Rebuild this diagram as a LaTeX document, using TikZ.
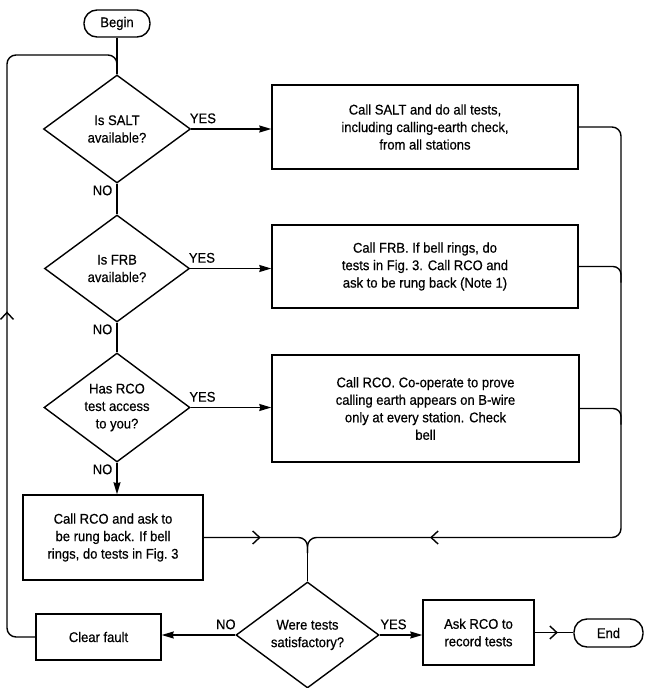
\documentclass[tikz,border=0pt]{standalone}
\usepackage{fontspec}
\setmainfont{Liberation Sans}[FakeStretch=0.93,FakeBold=0.5]
\usetikzlibrary{shapes.geometric,arrows.meta,decorations.markings}
\begin{document}
\begin{tikzpicture}[x=1pt,y=-1pt,
  every node/.style={font=\fontsize{14}{17.5}\selectfont},
  line width=1.4pt,
  proc/.style={draw, rectangle, align=center, inner sep=2pt},
  dec/.style={draw, diamond, aspect=1.36, align=center, inner sep=0pt},
  term/.style={draw, rounded corners=13pt, align=center, inner sep=2pt},
  lbl/.style={inner sep=1pt},
  flow/.style={-{Stealth[length=12pt,width=7pt,inset=1pt]}},
  midarrow/.style={postaction={decorate}, decoration={markings, mark=at position #1 with {\arrow{Straight Barb[length=7pt,width=13pt]}}}}
]
\useasboundingbox (0,0) rectangle (646,688);

\node[term, minimum width=66pt, minimum height=27pt] (begin) at (117,23.5) {Begin};
\node[dec, minimum width=147pt, minimum height=108pt] (d1) at (117,129) {Is SALT\\available?};
\node[dec, minimum width=145pt, minimum height=107pt] (d2) at (117,268.5) {Is FRB\\available?};
\node[dec, minimum width=146pt, minimum height=109pt] (d3) at (117,407.5) {Has RCO\\test access\\to you?};
\node[proc, minimum width=306pt, minimum height=84pt] (b1) at (425,127) {Call SALT and do all tests,\\including calling-earth check,\\from all stations};
\node[proc, minimum width=306pt, minimum height=83pt] (b2) at (425,266.5) {Call FRB. If bell rings, do\\tests in Fig.~3. Call RCO and\\ask to be rung back (Note 1)};
\node[proc, minimum width=307pt, minimum height=107pt] (b3) at (425.5,408.5) {Call RCO. Co-operate to prove\\calling earth appears on B-wire\\only at every station. Check\\bell};
\node[proc, minimum width=180pt, minimum height=85pt] (b4) at (113,537.5) {Call RCO and ask to\\be rung back. If bell\\rings, do tests in Fig.~3};
\node[dec, minimum width=143pt, minimum height=106pt] (d5) at (307.5,635) {Were tests\\satisfactory?};
\node[proc, minimum width=125pt, minimum height=46pt] (cf) at (98.5,637) {Clear fault};
\node[proc, minimum width=111pt, minimum height=65pt] (ask) at (478.5,632.5) {Ask RCO to\\record tests};
\node[term, minimum width=69pt, minimum height=28pt] (end) at (608.5,633) {End};

\coordinate (rx) at (621,0);
\coordinate (m) at (307.5,553);
\coordinate (lp) at (7,55);

% main vertical
\draw (begin.south) -- (d1.north);
\draw (d1.south) -- (d2.north);
\draw (d2.south) -- (d3.north);
\draw[flow] (d3.south) -- (d3.south |- b4.north);

% yes branches
\draw[flow] (d1.east) -- (d1.east -| b1.west);
\draw[flow] (d2.east) -- (d2.east -| b2.west);
\draw[flow] (d3.east) -- (d3.east -| b3.west);

% right trunk
\draw[rounded corners=9pt, midarrow=636pt] (b1.east) -- (b1.east -| rx) -- (rx |- b4.east) -- (m |- b4.east) -- (m);
\draw[rounded corners=8pt] (b2.east) -- (b2.east -| rx) -- ++(0,16);
\draw[rounded corners=8pt] (b3.east) -- (b3.east -| rx) -- ++(0,16);
\draw[rounded corners=9pt, midarrow=57pt] (b4.east) -- (m |- b4.east) -- (m);
\draw (m) -- (d5.north);

% bottom row
\draw[flow] (d5.west) -- (d5.west -| cf.east);
\draw[flow] (d5.east) -- (d5.east -| ask.west);
\draw[midarrow=0.6] (ask.east) -- (ask.east -| end.west);

% loop back
\draw[rounded corners=9pt, midarrow=350pt] (cf.west) -| (lp) -| (d1.north);

% labels
\node[lbl, anchor=south west, xshift=-3pt, yshift=4pt] at (d1.east) {YES};
\node[lbl, anchor=south west, xshift=-3pt, yshift=4pt] at (d2.east) {YES};
\node[lbl, anchor=south west, xshift=-3pt, yshift=4pt] at (d3.east) {YES};
\node[lbl, anchor=north east, xshift=-3pt] at (d1.south) {NO};
\node[lbl, anchor=north east, xshift=-3pt] at (d2.south) {NO};
\node[lbl, anchor=north east, xshift=-3pt] at (d3.south) {NO};
\node[lbl, anchor=south east, xshift=2pt, yshift=4pt] at (d5.west) {NO};
\node[lbl, anchor=south west, xshift=-1pt, yshift=4pt] at (d5.east) {YES};
\end{tikzpicture}
\end{document}
